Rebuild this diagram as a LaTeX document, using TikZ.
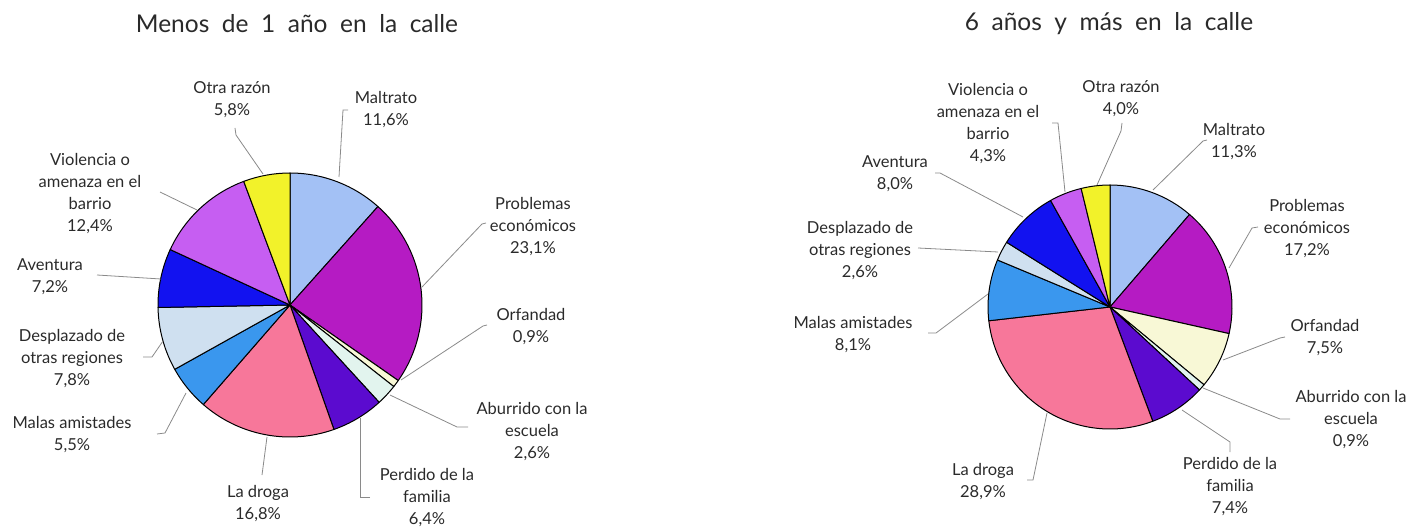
\documentclass[tikz,border=0pt]{standalone}
\usepackage{fontspec}
\setmainfont{Lato}
\definecolor{cMal}{HTML}{A3C1F5}
\definecolor{cPro}{HTML}{B51BC3}
\definecolor{cOrf}{HTML}{F8F8D6}
\definecolor{cAbu}{HTML}{E2F4EE}
\definecolor{cPer}{HTML}{5B0BCF}
\definecolor{cDro}{HTML}{F7779A}
\definecolor{cAmi}{HTML}{3A97EE}
\definecolor{cDes}{HTML}{CFE0F0}
\definecolor{cAve}{HTML}{1212F0}
\definecolor{cVio}{HTML}{C65EF2}
\definecolor{cOtr}{HTML}{F2F22A}
\definecolor{leadc}{HTML}{8A8A8A}
\definecolor{txtc}{HTML}{2A2A2A}
\newcommand\pieslice[5]{%
  \filldraw[fill=#5, draw=black, line width=1pt, line join=round] (#1) -- ++(#3:#2) arc[start angle=#3, end angle=#4, radius=#2] -- cycle;}
\tikzset{
  lbl/.style={align=center, text=txtc, inner sep=0pt, font=\fontsize{16.5}{22}\selectfont},
  ttl/.style={text=txtc, inner sep=0pt, font=\fontsize{24.5}{28}\selectfont},
  lead/.style={draw=leadc, line width=0.8pt}
}
\begin{document}
\begin{tikzpicture}[x=1pt,y=-1pt]
\useasboundingbox (0,0) rectangle (1415,529);
% ---------- titles
\node[ttl] (t1) at (297,24) {Menos\ \ de\ \ 1\ \ año\ \ en\ \ la\ \ calle};
\node[ttl] (t2) at (1109,24) {6\ \ años\ \ y\ \ más\ \ en\ \ la\ \ calle};
% ---------- left pie
\coordinate (L) at (290,305);
\pieslice{L}{132}{-90}{-48.24}{cMal}
\pieslice{L}{132}{-48.24}{34.92}{cPro}
\pieslice{L}{132}{34.92}{38.16}{cOrf}
\pieslice{L}{132}{38.16}{47.52}{cAbu}
\pieslice{L}{132}{47.52}{70.56}{cPer}
\pieslice{L}{132}{70.56}{131.04}{cDro}
\pieslice{L}{132}{131.04}{150.84}{cAmi}
\pieslice{L}{132}{150.84}{178.92}{cDes}
\pieslice{L}{132}{178.92}{204.84}{cAve}
\pieslice{L}{132}{204.84}{249.48}{cVio}
\pieslice{L}{132}{249.48}{270}{cOtr}
% ---------- right pie
\coordinate (R) at (1110,307);
\pieslice{R}{122}{-90}{-49.32}{cMal}
\pieslice{R}{122}{-49.32}{12.6}{cPro}
\pieslice{R}{122}{12.6}{39.6}{cOrf}
\pieslice{R}{122}{39.6}{42.84}{cAbu}
\pieslice{R}{122}{42.84}{69.48}{cPer}
\pieslice{R}{122}{69.48}{173.52}{cDro}
\pieslice{R}{122}{173.52}{202.68}{cAmi}
\pieslice{R}{122}{202.68}{212.04}{cDes}
\pieslice{R}{122}{212.04}{240.84}{cAve}
\pieslice{R}{122}{240.84}{256.32}{cVio}
\pieslice{R}{122}{256.32}{270}{cOtr}
% ---------- left labels
\node[lbl] (lOtr) at (232,100) {Otra razón\\5,8\%};
\node[lbl] (lMal) at (386,110) {Maltrato\\11,6\%};
\node[lbl] (lPro) at (533,227) {Problemas\\económicos\\23,1\%};
\node[lbl] (lOrf) at (531,327) {Orfandad\\0,9\%};
\node[lbl] (lAbu) at (532,432) {Aburrido con la\\escuela\\2,6\%};
\node[lbl] (lPer) at (427,498) {Perdido de la\\familia\\6,4\%};
\node[lbl] (lDro) at (258,504) {La droga\\16,8\%};
\node[lbl] (lAmi) at (72,435) {Malas amistades\\5,5\%};
\node[lbl] (lDes) at (72,359) {Desplazado de\\otras regiones\\7,8\%};
\node[lbl] (lAve) at (50,277) {Aventura\\7,2\%};
\node[lbl] (lVio) at (90,194) {Violencia o\\amenaza en el\\barrio\\12,4\%};
% ---------- right labels
\node[lbl] (rOtr) at (1121,99) {Otra razón\\4,0\%};
\node[lbl] (rVio) at (988,124) {Violencia o\\amenaza en el\\barrio\\4,3\%};
\node[lbl] (rMal) at (1234,142) {Maltrato\\11,3\%};
\node[lbl] (rPro) at (1307,229) {Problemas\\económicos\\17,2\%};
\node[lbl] (rOrf) at (1325,338) {Orfandad\\7,5\%};
\node[lbl] (rAbu) at (1351,420) {Aburrido con la\\escuela\\0,9\%};
\node[lbl] (rPer) at (1230,487) {Perdido de la\\familia\\7,4\%};
\node[lbl] (rDro) at (983,482) {La droga\\28,9\%};
\node[lbl] (rAmi) at (853,335) {Malas amistades\\8,1\%};
\node[lbl] (rDes) at (860,251) {Desplazado de\\otras regiones\\2,6\%};
\node[lbl] (rAve) at (895,174) {Aventura\\8,0\%};
% ---------- left leader coordinates
\coordinate (aOtr) at (235,128); \coordinate (bOtr) at (236,135); \coordinate (eOtr) at (263,174);
\coordinate (aMal) at (348,110); \coordinate (bMal) at (343,110); \coordinate (eMal) at (339,177);
\coordinate (aPro) at (486,223); \coordinate (bPro) at (482,224); \coordinate (ePro) at (422,287);
\coordinate (aOrf) at (487,325); \coordinate (bOrf) at (483,326); \coordinate (eOrf) at (401,380);
\coordinate (aAbu) at (468,427); \coordinate (bAbu) at (457,427); \coordinate (eAbu) at (390,395);
\coordinate (aPer) at (370,497); \coordinate (bPer) at (360,497); \coordinate (ePer) at (360,418);
\coordinate (aDro) at (262,475); \coordinate (eDro) at (267,437);
\coordinate (aAmi) at (157,434); \coordinate (bAmi) at (165,433); \coordinate (eAmi) at (186,393);
\coordinate (aDes) at (143,357); \coordinate (bDes) at (152,357); \coordinate (eDes) at (163,341);
\coordinate (aAve) at (97,275); \coordinate (eAve) at (161,279);
\coordinate (aVio) at (160,192); \coordinate (eVio) at (197,210);
% ---------- right leader coordinates
\coordinate (AOtr) at (1122,123); \coordinate (BOtr) at (1121,131); \coordinate (EOtr) at (1097,185);
\coordinate (AVio) at (1052,123); \coordinate (BVio) at (1058,123); \coordinate (EVio) at (1065,192);
\coordinate (AMal) at (1207,140); \coordinate (BMal) at (1203,141); \coordinate (EMal) at (1153,190);
\coordinate (APro) at (1258,227); \coordinate (BPro) at (1252,228); \coordinate (EPro) at (1229,268);
\coordinate (AOrf) at (1285,337); \coordinate (BOrf) at (1280,338); \coordinate (EOrf) at (1223,360);
\coordinate (AAbu) at (1290,419); \coordinate (BAbu) at (1280,419); \coordinate (EAbu) at (1203,388);
\coordinate (APer) at (1230,452); \coordinate (BPer) at (1230,442); \coordinate (EPer) at (1182,410);
\coordinate (ADro) at (1027,480); \coordinate (BDro) at (1033,480); \coordinate (EDro) at (1047,413);
\coordinate (AAmi) at (928,333); \coordinate (BAmi) at (936,333); \coordinate (EAmi) at (988,294);
\coordinate (ADes) at (918,248); \coordinate (EDes) at (998,252);
\coordinate (AAve) at (935,173); \coordinate (BAve) at (940,173); \coordinate (EAve) at (1023,217);
% ---------- leaders
\draw[lead] (aOtr) -- (bOtr) -- (eOtr);
\draw[lead] (aMal) -- (bMal) -- (eMal);
\draw[lead] (aPro) -- (bPro) -- (ePro);
\draw[lead] (aOrf) -- (bOrf) -- (eOrf);
\draw[lead] (aAbu) -- (bAbu) -- (eAbu);
\draw[lead] (aPer) -- (bPer) -- (ePer);
\draw[lead] (aDro) -- (eDro);
\draw[lead] (aAmi) -- (bAmi) -- (eAmi);
\draw[lead] (aDes) -- (bDes) -- (eDes);
\draw[lead] (aAve) -- (eAve);
\draw[lead] (aVio) -- (eVio);
\draw[lead] (AOtr) -- (BOtr) -- (EOtr);
\draw[lead] (AVio) -- (BVio) -- (EVio);
\draw[lead] (AMal) -- (BMal) -- (EMal);
\draw[lead] (APro) -- (BPro) -- (EPro);
\draw[lead] (AOrf) -- (BOrf) -- (EOrf);
\draw[lead] (AAbu) -- (BAbu) -- (EAbu);
\draw[lead] (APer) -- (BPer) -- (EPer);
\draw[lead] (ADro) -- (BDro) -- (EDro);
\draw[lead] (AAmi) -- (BAmi) -- (EAmi);
\draw[lead] (ADes) -- (EDes);
\draw[lead] (AAve) -- (BAve) -- (EAve);
\end{tikzpicture}
\end{document}
